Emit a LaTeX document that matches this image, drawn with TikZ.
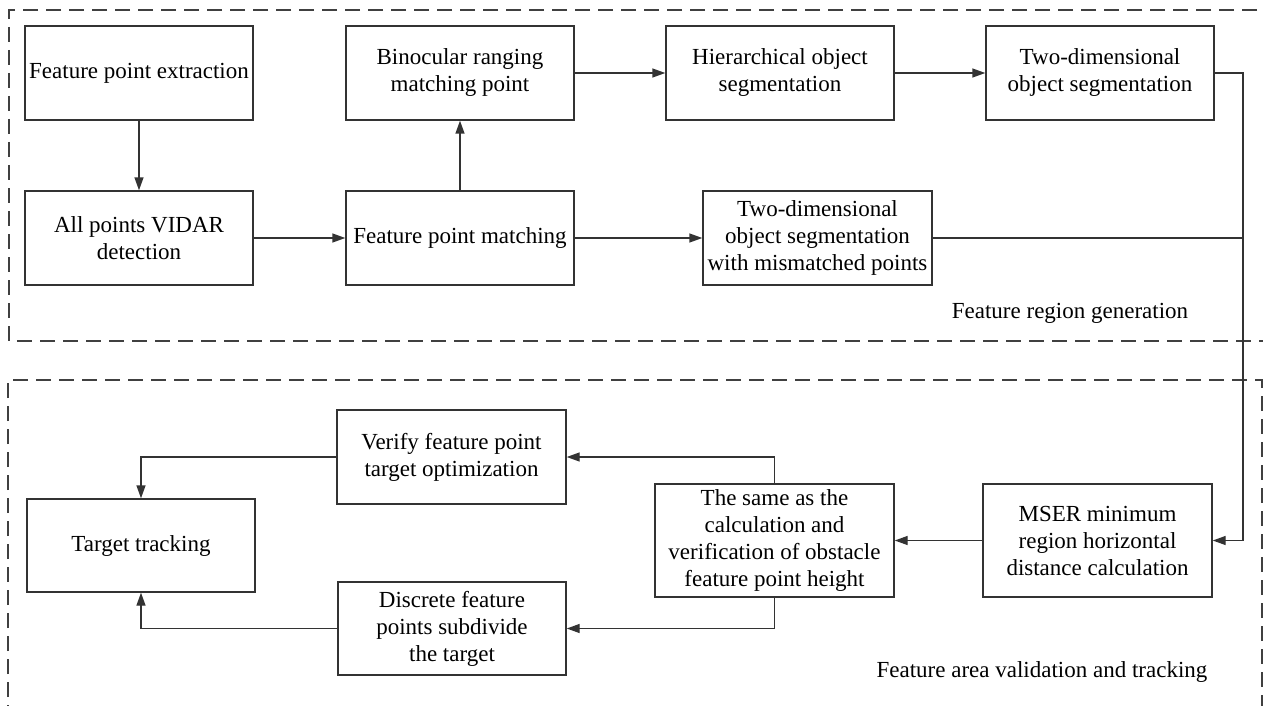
\documentclass[tikz,border=0pt]{standalone}
\usepackage{fontspec}
\setmainfont{Liberation Serif}
\usetikzlibrary{arrows.meta}

\begin{document}
\begin{tikzpicture}[x=1pt,y=-1pt,
	box/.style={draw=black!80, line width=1.4pt, minimum width=228pt, minimum height=94pt, align=center, inner sep=2pt, font=\fontsize{23}{27}\selectfont},
	flow/.style={draw=black!80, line width=1.4pt, -{Triangle[length=13pt,width=9pt]}},
	link/.style={draw=black!80, line width=1.4pt},
	frame/.style={draw=black!75, line width=1.3pt, dash pattern=on 15pt off 8pt},
	caption/.style={font=\fontsize{23}{27}\selectfont}]
	  \useasboundingbox (0,0) rectangle (1263,706);
	  \draw[frame] (1280,10) -- (9,10) -- (9,341) -- (1280,341);
	  \draw[frame] (8,720) -- (8,380) -- (1262,380) -- (1262,720);

	  \node[box] (extract) at (139,73) {Feature point extraction};
	  \node[box] (vidar) at (139,238) {All points VIDAR\\detection};
	  \node[box] (binocular) at (460,73) {Binocular ranging\\matching point};
	  \node[box] (matching) at (460,238) {Feature point matching};
	  \node[box] (hierarchical) at (780,73) {Hierarchical object\\segmentation};
	  \node[box] (twodim) at (1100,73) {Two-dimensional\\object segmentation};
	  \node[box, minimum width=229pt] (mismatch) at (817.5,238) {Two-dimensional\\object segmentation\\with mismatched points};
	  \node[caption] (regiongen) at (1070,313) {Feature region generation};

	  \node[box, minimum width=229pt, minimum height=113pt] (mser) at (1097.5,540.5) {MSER minimum\\region horizontal\\distance calculation};
	  \node[box, minimum width=239pt, minimum height=113pt] (height) at (774.5,540.5) {The same as the\\calculation and\\verification of obstacle\\feature point height};
	  \node[box, minimum width=229pt] (verify) at (451.5,457) {Verify feature point\\target optimization};
	  \node[box, minimum height=93pt] (discrete) at (452,628.5) {Discrete feature\\points subdivide\\the target};
	  \node[box, minimum height=93pt] (tracking) at (141,545.5) {Target tracking};
	  \node[caption] (validation) at (1042,672) {Feature area validation and tracking};

	  \coordinate (bus) at (1243,238);

	  \draw[flow] (extract) -- (vidar);
	  \draw[flow] (vidar) -- (matching);
	  \draw[flow] (matching) -- (binocular);
	  \draw[flow] (binocular) -- (hierarchical);
	  \draw[flow] (hierarchical) -- (twodim);
	  \draw[flow] (matching) -- (mismatch);
	  \draw[link] (mismatch.east) -- (bus);
	  \draw[flow] (twodim.east) -| (bus) |- (mser.east);
	  \draw[flow] (mser) -- (height);
	  \draw[flow] (height.north) |- (verify.east);
	  \draw[flow] (height.south) |- (discrete.east);
	  \draw[flow] (verify.west) -| (tracking.north);
	  \draw[flow] (discrete.west) -| (tracking.south);

	\end{tikzpicture}
\end{document}
